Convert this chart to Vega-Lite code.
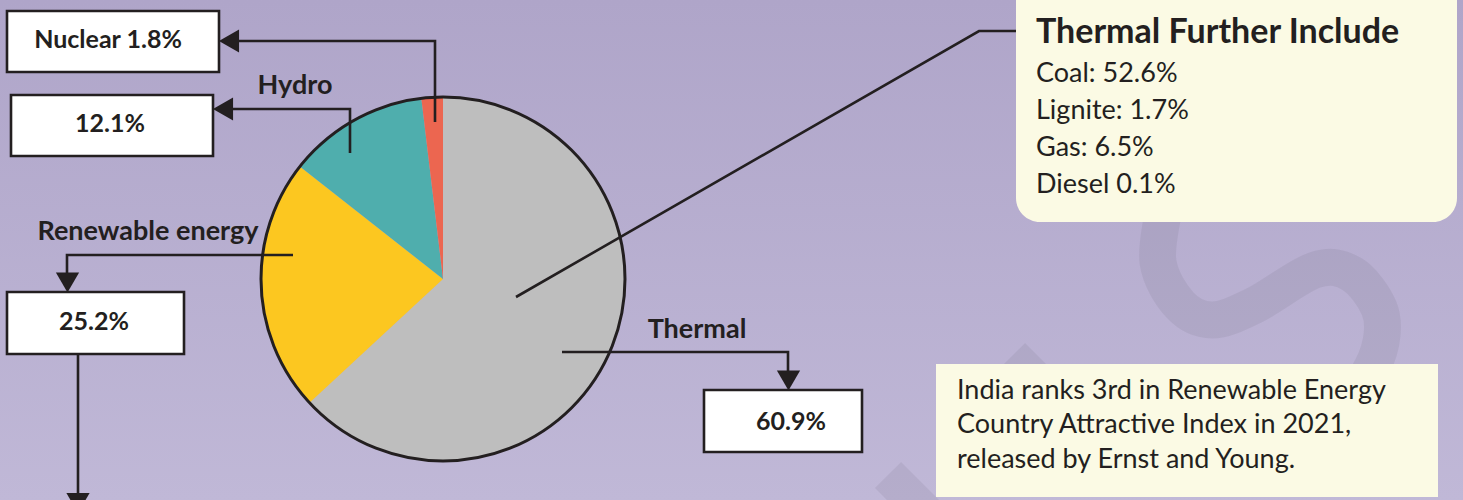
{
  "$schema": "https://vega.github.io/schema/vega-lite/v6.json",
  "width": 1463,
  "height": 500,
  "padding": 0,
  "autosize": {"type": "none"},
  "background": "#b8afd0",
  "config": {"view": {"stroke": null}, "font": "Lato"},
  "datasets": {
    "share": [
      {"source": "Thermal", "share": 63.1, "label": "60.9%", "order": 1},
      {"source": "Renewable energy", "share": 22.5, "label": "25.2%", "order": 2},
      {"source": "Hydro", "share": 12.5, "label": "12.1%", "order": 3},
      {"source": "Nuclear", "share": 1.9, "label": "1.8%", "order": 4}
    ],
    "watermark": [
      {"id": "s", "seq": 1, "x": 1165, "y": 205},
      {"id": "s", "seq": 2, "x": 1158, "y": 262},
      {"id": "s", "seq": 3, "x": 1180, "y": 305},
      {"id": "s", "seq": 4, "x": 1212, "y": 320},
      {"id": "s", "seq": 5, "x": 1255, "y": 305},
      {"id": "s", "seq": 6, "x": 1315, "y": 270},
      {"id": "s", "seq": 7, "x": 1352, "y": 274},
      {"id": "s", "seq": 8, "x": 1379, "y": 308},
      {"id": "s", "seq": 9, "x": 1381, "y": 342},
      {"id": "s", "seq": 10, "x": 1366, "y": 378},
      {"id": "s", "seq": 11, "x": 1340, "y": 405},
      {"id": "a", "seq": 1, "x": 888, "y": 475},
      {"id": "a", "seq": 2, "x": 960, "y": 547},
      {"id": "b", "seq": 1, "x": 1012, "y": 356},
      {"id": "b", "seq": 2, "x": 1070, "y": 414}
    ],
    "leaders": [
      {"id": "nuclear", "seq": 1, "x": 435, "y": 122},
      {"id": "nuclear", "seq": 2, "x": 435, "y": 41},
      {"id": "nuclear", "seq": 3, "x": 232, "y": 41},
      {"id": "hydro", "seq": 1, "x": 350, "y": 153},
      {"id": "hydro", "seq": 2, "x": 350, "y": 109},
      {"id": "hydro", "seq": 3, "x": 226, "y": 109},
      {"id": "renew", "seq": 1, "x": 293, "y": 255},
      {"id": "renew", "seq": 2, "x": 67, "y": 255},
      {"id": "renew", "seq": 3, "x": 67, "y": 278},
      {"id": "renew2", "seq": 1, "x": 78, "y": 354},
      {"id": "renew2", "seq": 2, "x": 78, "y": 498},
      {"id": "thermal", "seq": 1, "x": 562, "y": 352},
      {"id": "thermal", "seq": 2, "x": 788, "y": 352},
      {"id": "thermal", "seq": 3, "x": 788, "y": 376},
      {"id": "further", "seq": 1, "x": 516, "y": 297},
      {"id": "further", "seq": 2, "x": 979, "y": 31},
      {"id": "further", "seq": 3, "x": 1018, "y": 31}
    ],
    "heads": [
      {"x": 229, "y": 41, "shape": "triangle-left"},
      {"x": 223, "y": 109, "shape": "triangle-left"},
      {"x": 67.5, "y": 282.5, "shape": "triangle-down"},
      {"x": 78, "y": 503, "shape": "triangle-down"},
      {"x": 788.5, "y": 380.5, "shape": "triangle-down"}
    ],
    "boxes": [
      {"x": 7, "x2": 219, "y": 11, "y2": 72, "text": "Nuclear 1.8%", "tx": 108, "ty": 40},
      {"x": 11, "x2": 213, "y": 95, "y2": 156, "text": "12.1%", "tx": 110, "ty": 124},
      {"x": 7, "x2": 184, "y": 292, "y2": 354, "text": "25.2%", "tx": 94, "ty": 322},
      {"x": 704, "x2": 862, "y": 390, "y2": 452, "text": "60.9%", "tx": 791, "ty": 422}
    ],
    "labels": [
      {"x": 295, "y": 86, "text": "Hydro"},
      {"x": 148, "y": 232, "text": "Renewable energy"},
      {"x": 697, "y": 330, "text": "Thermal"}
    ],
    "notes": [
      {"x": 1016, "x2": 1457, "y": -30, "y2": 222, "kind": "thermal"},
      {"x": 936, "x2": 1438, "y": 364, "y2": 497, "kind": "rank"}
    ],
    "noteText": [
      {"x": 1036, "y": 82, "text": "Coal: 52.6%"},
      {"x": 1036, "y": 119, "text": "Lignite: 1.7%"},
      {"x": 1036, "y": 156, "text": "Gas: 6.5%"},
      {"x": 1036, "y": 193, "text": "Diesel 0.1%"},
      {"x": 957, "y": 399, "text": "India ranks 3rd in Renewable Energy"},
      {"x": 957, "y": 433, "text": "Country Attractive Index in 2021,"},
      {"x": 957, "y": 468, "text": "released by Ernst and Young."}
    ],
    "header": [
      {"x": 1036, "y": 43, "text": "Thermal Further Include"}
    ]
  },
  "layer": [
    {
      "data": {"values": [{"name": "bg"}]},
      "mark": {
        "type": "rect",
        "color": {
          "gradient": "linear", "x1": 0, "y1": 0, "x2": 0, "y2": 1,
          "stops": [
            {"offset": 0, "color": "#afa5c9"},
            {"offset": 1, "color": "#c0b8d7"}
          ]
        }
      },
      "encoding": {
        "x": {"datum": 0, "type": "quantitative", "scale": {"domain": [0, 1463], "nice": false, "zero": false}, "axis": null},
        "x2": {"datum": 1463},
        "y": {"datum": 0, "type": "quantitative", "scale": {"domain": [0, 500], "nice": false, "zero": false, "reverse": true}, "axis": null},
        "y2": {"datum": 500}
      }
    },
    {
      "data": {"name": "watermark"},
      "mark": {"type": "line", "strokeWidth": 37, "color": "#000000", "opacity": 0.055, "interpolate": "cardinal", "strokeCap": "butt"},
      "encoding": {
        "x": {"field": "x", "type": "quantitative", "axis": null},
        "y": {"field": "y", "type": "quantitative", "axis": null},
        "detail": {"field": "id"},
        "order": {"field": "seq"}
      }
    },
    {
      "data": {"name": "share"},
      "mark": {"type": "arc", "outerRadius": 182},
      "encoding": {
        "x": {"datum": 443, "type": "quantitative", "axis": null},
        "y": {"datum": 279, "type": "quantitative", "axis": null},
        "theta": {"field": "share", "type": "quantitative", "stack": true},
        "order": {"field": "order"},
        "color": {
          "field": "source", "type": "nominal", "legend": null,
          "scale": {"domain": ["Thermal", "Renewable energy", "Hydro", "Nuclear"], "range": ["#bebebe", "#fcc720", "#4faead", "#ec6650"]}
        }
      }
    },
    {
      "data": {"values": [{"name": "outline"}]},
      "mark": {"type": "arc", "outerRadius": 182, "theta": 0, "theta2": 6.2832, "fill": null, "stroke": "#231f20", "strokeWidth": 3},
      "encoding": {
        "x": {"datum": 443, "type": "quantitative", "axis": null},
        "y": {"datum": 279, "type": "quantitative", "axis": null}
      }
    },
    {
      "data": {"name": "leaders"},
      "mark": {"type": "line", "strokeWidth": 2.6, "color": "#231f20", "strokeJoin": "miter"},
      "encoding": {
        "x": {"field": "x", "type": "quantitative", "axis": null},
        "y": {"field": "y", "type": "quantitative", "axis": null},
        "detail": {"field": "id"},
        "order": {"field": "seq"}
      }
    },
    {
      "data": {"name": "heads"},
      "mark": {"type": "point", "filled": true, "size": 540, "color": "#231f20", "opacity": 1},
      "encoding": {
        "x": {"field": "x", "type": "quantitative", "axis": null},
        "y": {"field": "y", "type": "quantitative", "axis": null},
        "shape": {"field": "shape", "type": "nominal", "scale": null}
      }
    },
    {
      "data": {"name": "boxes"},
      "mark": {"type": "rect", "fill": "#ffffff", "stroke": "#231f20", "strokeWidth": 2.6},
      "encoding": {
        "x": {"field": "x", "type": "quantitative", "axis": null},
        "x2": {"field": "x2"},
        "y": {"field": "y", "type": "quantitative", "axis": null},
        "y2": {"field": "y2"}
      }
    },
    {
      "data": {"name": "boxes"},
      "mark": {"type": "text", "font": "Lato", "fontWeight": "bold", "fontSize": 25, "color": "#231f20", "align": "center", "baseline": "middle"},
      "encoding": {
        "x": {"field": "tx", "type": "quantitative", "axis": null},
        "y": {"field": "ty", "type": "quantitative", "axis": null},
        "text": {"field": "text"}
      }
    },
    {
      "data": {"name": "labels"},
      "mark": {"type": "text", "font": "Lato", "fontWeight": "bold", "fontSize": 27, "color": "#231f20", "align": "center", "baseline": "middle"},
      "encoding": {
        "x": {"field": "x", "type": "quantitative", "axis": null},
        "y": {"field": "y", "type": "quantitative", "axis": null},
        "text": {"field": "text"}
      }
    },
    {
      "data": {"name": "notes"},
      "mark": {"type": "rect", "fill": "#fbfae4", "cornerRadius": 24},
      "transform": [{"filter": "datum.kind == 'thermal'"}],
      "encoding": {
        "x": {"field": "x", "type": "quantitative", "axis": null},
        "x2": {"field": "x2"},
        "y": {"field": "y", "type": "quantitative", "axis": null},
        "y2": {"field": "y2"}
      }
    },
    {
      "data": {"name": "notes"},
      "mark": {"type": "rect", "fill": "#fbfae4"},
      "transform": [{"filter": "datum.kind == 'rank'"}],
      "encoding": {
        "x": {"field": "x", "type": "quantitative", "axis": null},
        "x2": {"field": "x2"},
        "y": {"field": "y", "type": "quantitative", "axis": null},
        "y2": {"field": "y2"}
      }
    },
    {
      "data": {"name": "header"},
      "mark": {"type": "text", "font": "Lato", "fontWeight": "bold", "fontSize": 34, "color": "#231f20", "align": "left", "baseline": "alphabetic"},
      "encoding": {
        "x": {"field": "x", "type": "quantitative", "axis": null},
        "y": {"field": "y", "type": "quantitative", "axis": null},
        "text": {"field": "text"}
      }
    },
    {
      "data": {"name": "noteText"},
      "mark": {"type": "text", "font": "Lato", "fontSize": 27, "color": "#231f20", "align": "left", "baseline": "alphabetic"},
      "encoding": {
        "x": {"field": "x", "type": "quantitative", "axis": null},
        "y": {"field": "y", "type": "quantitative", "axis": null},
        "text": {"field": "text"}
      }
    }
  ]
}
